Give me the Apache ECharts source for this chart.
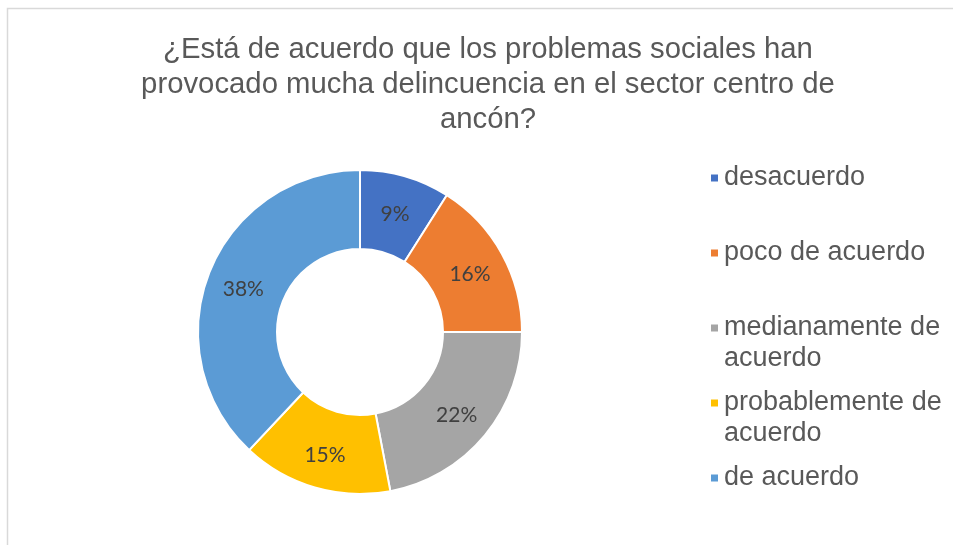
<!DOCTYPE html>
<html lang="es">
<head>
<meta charset="UTF-8" />
<title>Problemas sociales y delincuencia</title>
<style>
  html, body { margin: 0; padding: 0; background: #fff; }
  #main { width: 953px; height: 545px; }
</style>
</head>
<body>
<div id="main"></div>
<script src="https://cdn.jsdelivr.net/npm/echarts@6/dist/echarts.min.js"></script>
<script>
  // datos del grafico
  var categorias = ['desacuerdo', 'poco de acuerdo', 'medianamente de acuerdo', 'probablemente de acuerdo', 'de acuerdo'];
  var valores = [9, 16, 22, 15, 38];
  var colores = ['#4472C4', '#ED7D31', '#A5A5A5', '#FFC000', '#5B9BD5'];
  // texto de la leyenda (con saltos de linea como en el original)
  var etiquetasLeyenda = ['desacuerdo', 'poco de acuerdo', 'medianamente de\nacuerdo', 'probablemente de\nacuerdo', 'de acuerdo'];
  var centrosLeyenda = [178, 253, 328, 403, 478];

  var chart = echarts.init(document.getElementById('main'));

  // una leyenda por elemento, para que el cuadrito quede en la primera linea
  // (linea vacia arriba: asi la primera linea queda centrada con el cuadrito)
  var leyendas = categorias.map(function (nombre, i) {
    var dos = etiquetasLeyenda[i].indexOf('\n') >= 0;
    return {
      orient: 'vertical',
      left: 709,
      top: centrosLeyenda[i] - (dos ? 46.5 : 15.5),
      padding: 0,
      itemWidth: 9,
      itemHeight: 9,
      icon: 'rect',
      data: [nombre],
      selectedMode: false,
      formatter: function () { return dos ? '\n' + etiquetasLeyenda[i] : etiquetasLeyenda[i]; },
      textStyle: {
        fontFamily: 'Liberation Sans, Arial, sans-serif',
        fontSize: 27,
        color: '#595959',
        lineHeight: 31
      }
    };
  });

  var option = {
    backgroundColor: '#fff',
    animation: false,
    title: {
      text: '¿Está de acuerdo que los problemas sociales han\nprovocado mucha delincuencia en el sector centro de\nancón?',
      left: 488,
      top: 32,
      textAlign: 'center',
      padding: 0,
      textStyle: {
        fontFamily: 'Liberation Sans, Arial, sans-serif',
        fontSize: 29.3,
        fontWeight: 'normal',
        color: '#595959',
        lineHeight: 35
      }
    },
    legend: leyendas,
    graphic: [{
      type: 'rect',
      shape: { x: 7.5, y: 8.5, width: 1000, height: 600 },
      style: { fill: 'none', stroke: '#d9d9d9', lineWidth: 1.5 },
      silent: true,
      z: -1
    }],
    series: [{
      type: 'pie',
      center: [360, 332],
      radius: [83, 162],
      startAngle: 90,
      clockwise: true,
      itemStyle: { borderColor: '#fff', borderWidth: 2 },
      label: {
        show: true,
        position: 'inside',
        formatter: '{d}%',
        fontFamily: 'Lato, Open Sans, sans-serif',
        fontSize: 21,
        color: '#404040',
        offset: [0, 3]
      },
      labelLine: { show: false },
      emphasis: { disabled: true },
      data: categorias.map(function (c, i) {
        return { name: c, value: valores[i], itemStyle: { color: colores[i] } };
      })
    }]
  };

  chart.setOption(option);
</script>
</body>
</html>
